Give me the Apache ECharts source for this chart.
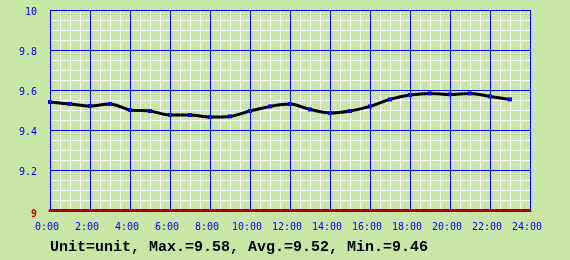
<!DOCTYPE html>
<html><head><meta charset="utf-8">
<script src="https://cdn.jsdelivr.net/npm/echarts@6/dist/echarts.min.js"></script>
<style>html,body{margin:0;padding:0;background:#c8e6a6;}#c{width:570px;height:260px;}</style>
</head><body><div id="c"></div>
<script>
var hours = [0,1,2,3,4,5,6,7,8,9,10,11,12,13,14,15,16,17,18,19,20,21,22,23];
var values = [9.54,9.53,9.52,9.53,9.50,9.495,9.475,9.475,9.465,9.468,9.495,9.518,9.53,9.503,9.485,9.495,9.518,9.553,9.575,9.583,9.578,9.583,9.568,9.553];
var yTicks = [9, 9.2, 9.4, 9.6, 9.8, 10];
var footer = 'Unit=unit, Max.=9.58, Avg.=9.52, Min.=9.46';

var chart = echarts.init(document.getElementById('c'), null, {renderer:'canvas'});
var data = hours.map(function(h,i){return [h, values[i]];});
var lbl = {color:'#0000ff',fontFamily:'DejaVu Sans Mono',fontSize:10};
chart.setOption({
  backgroundColor:'#c8e6a6',
  animation:false,
  grid:{left:50,right:40,top:10,bottom:50},
  xAxis:[
    {type:'value',min:0,max:24,interval:2,z:0,
      axisLine:{show:false},axisTick:{show:false},axisLabel:{show:false},
      splitLine:{show:false},
      minorTick:{show:false,splitNumber:4},
      minorSplitLine:{show:true,lineStyle:{color:'#ffffff',width:1}}},
    {type:'value',min:0,max:24,interval:2,z:1,position:'bottom',
      axisLine:{show:true,onZero:false,lineStyle:{color:'#aa0000',width:3}},
      axisTick:{show:false},
      splitLine:{show:true,lineStyle:{color:'#0000ff',width:1}},
      axisLabel:Object.assign({margin:12,padding:[0,6,0,0],formatter:function(v){return v+':00';}},lbl)}
  ],
  yAxis:[
    {type:'value',min:9,max:10,interval:0.2,z:0,
      axisLine:{show:false},axisTick:{show:false},axisLabel:{show:false},
      splitLine:{show:false},
      minorTick:{show:false,splitNumber:4},
      minorSplitLine:{show:true,lineStyle:{color:'#ffffff',width:1}}},
    {type:'value',min:9,max:10,interval:0.2,z:1,position:'left',
      axisLine:{show:true,onZero:false,lineStyle:{color:'#0000ff',width:1}},
      axisTick:{show:false},
      splitLine:{show:true,lineStyle:{color:'#0000ff',width:1}},
      axisLabel:Object.assign({margin:13,padding:[4,0,0,0],
        formatter:function(v){ var s = (Math.round(v*10)/10).toString(); return v===9?'{r|'+s+'}':s;},
        rich:{r:{color:'#cc0000',fontFamily:'DejaVu Sans Mono',fontSize:10,fontWeight:'bold',padding:[4,0,0,0]}}},lbl)}
  ],
  series:[{type:'line',data:data,smooth:0.3,xAxisIndex:1,yAxisIndex:1,
    lineStyle:{color:'#000000',width:3},
    symbol:'rect',symbolSize:4,showSymbol:true,
    itemStyle:{color:'#0000ff'},z:5}],
  graphic:[{type:'text',left:50,top:240,z:10,style:{text:footer,fill:'#000000',
    font:'bold 15px "Liberation Mono"'}}]
});
</script></body></html>
